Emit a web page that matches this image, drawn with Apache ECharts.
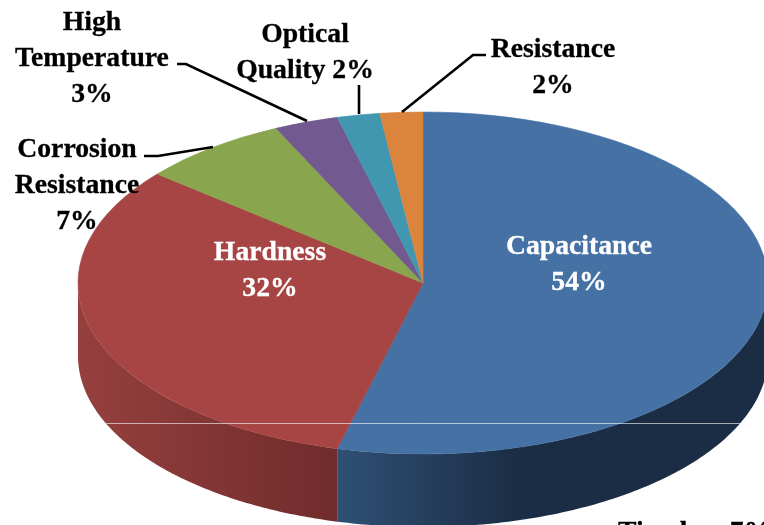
<!DOCTYPE html>
<html>
<head>
<meta charset="utf-8">
<style>html,body{margin:0;padding:0;background:#fff;overflow:hidden}#c{width:764px;height:525px}</style>
<script src="https://cdn.jsdelivr.net/npm/echarts@6/dist/echarts.min.js"></script>
</head>
<body>
<div id="c"></div>
<script>
const categories = ['Capacitance', 'Hardness', 'Corrosion Resistance', 'High Temperature', 'Optical Quality', 'Resistance'];
const values = [54, 32, 7, 3, 2, 2];
const colors = ['#4571a5', '#a74545', '#89a54e', '#725a91', '#4197af', '#db843d'];
const sideGradients = [['#2f5074', '#1b2d45', 0.42], ['#96403e', '#6f2c2b', 1], null, null, null, null];

const CX = 423, CY = 283, RX = 345, RY = 171, DEPTH = 73;
const total = values.reduce((a, b) => a + b, 0);
const FONT = '"Liberation Serif", serif';

function arcPoint(theta, dy) {
  return [CX + RX * Math.sin(theta), CY - RY * Math.cos(theta) + (dy || 0)];
}

function renderItem(params, api) {
  const i = params.dataIndex;
  let before = 0;
  for (let k = 0; k < i; k++) before += values[k];
  const a0 = before / total * Math.PI * 2;
  const a1 = (before + api.value(0)) / total * Math.PI * 2;
  const children = [];
  const s0 = Math.max(a0, Math.PI / 2), s1 = Math.min(a1, Math.PI * 1.5);
  if (s1 > s0 && sideGradients[i]) {
    const pts = [], n = 120;
    for (let k = 0; k <= n; k++) pts.push(arcPoint(s0 + (s1 - s0) * k / n));
    for (let k = n; k >= 0; k--) pts.push(arcPoint(s0 + (s1 - s0) * k / n, DEPTH));
    const g = sideGradients[i];
    const stops = i === 0
      ? [{ offset: 0, color: g[0] }, { offset: g[2], color: g[1] }, { offset: 1, color: g[1] }]
      : [{ offset: 0, color: g[0] }, { offset: 1, color: g[1] }];
    children.push({
      type: 'polygon', shape: { points: pts },
      style: { fill: new echarts.graphic.LinearGradient(0, 0, 1, 0, stops) }
    });
  }
  children.push({
    type: 'sector', x: CX, y: CY, scaleY: RY / RX,
    shape: { cx: 0, cy: 0, r0: 0, r: RX, startAngle: a0 - Math.PI / 2, endAngle: a1 - Math.PI / 2, clockwise: true },
    style: { fill: api.visual('color'), stroke: api.visual('color'), lineWidth: 0.8 }
  });
  return { type: 'group', children };
}

function txt(x, y, text, fill, align) {
  const c = fill || '#000';
  return {
    type: 'text', x, y, z: 10,
    style: { text, fill: c, stroke: c, lineWidth: 0.3, font: 'bold 27.7px ' + FONT, align: align || 'center', verticalAlign: 'middle', lineHeight: 36 }
  };
}
function leader(points) {
  return { type: 'polyline', z: 9, shape: { points }, style: { stroke: '#000', lineWidth: 2.6, fill: null } };
}

const chart = echarts.init(document.getElementById('c'), null, { renderer: 'canvas' });
chart.setOption({
  animation: false,
  backgroundColor: '#fff',
  series: [{
    type: 'custom', coordinateSystem: 'none', renderItem,
    data: values.map((v, i) => ({ name: categories[i], value: [v], itemStyle: { color: colors[i] } }))
  }],
  graphic: [
    { type: 'line', z: 8, shape: { x1: 106, y1: 423.5, x2: 741, y2: 423.5 }, style: { stroke: 'rgba(255,255,255,0.6)', lineWidth: 1 } },
    leader([[177, 64], [186, 64], [307, 121]]),
    leader([[144, 156], [158, 156], [213, 147]]),
    leader([[359, 85], [359, 114]]),
    leader([[486, 55], [473, 55], [402, 112]]),
    txt(579, 265, 'Capacitance\n' + values[0] + '%', '#fff'),
    txt(270, 271, 'Hardness\n' + values[1] + '%', '#fff'),
    txt(77, 186, 'Corrosion\nResistance\n' + values[2] + '%'),
    txt(92, 59, 'High\nTemperature\n' + values[3] + '%'),
    txt(305, 53, 'Optical\nQuality ' + values[4] + '%'),
    txt(553, 68, 'Resistance\n' + values[5] + '%'),
    txt(618, 533, 'Tip gloss 7%', '#000', 'left')
  ]
});
</script>
</body>
</html>
